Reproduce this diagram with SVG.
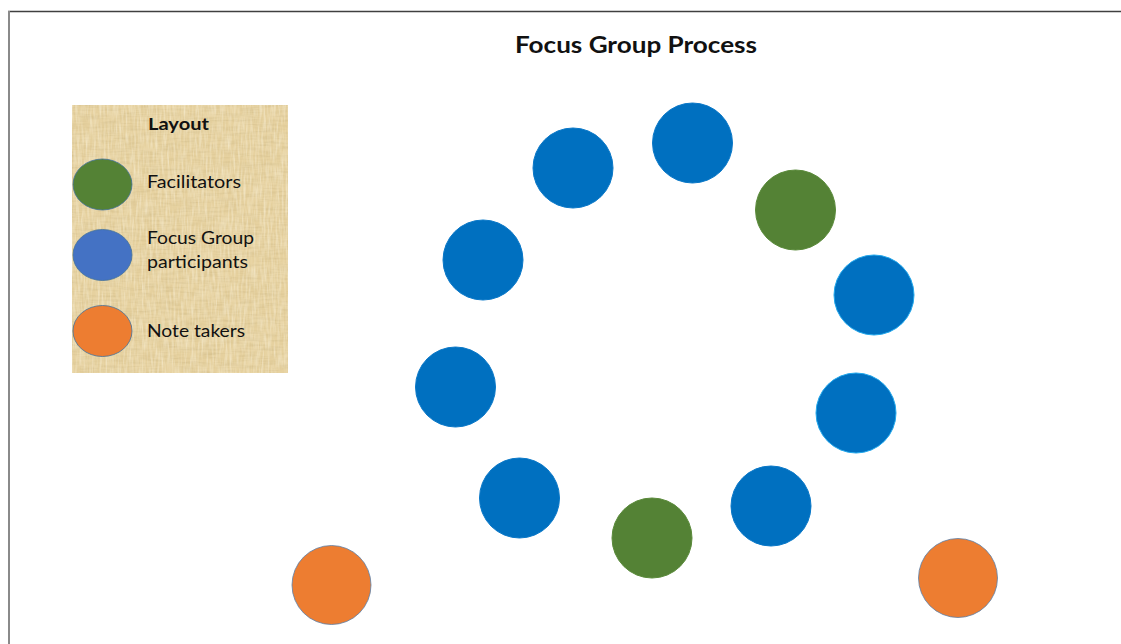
<svg xmlns="http://www.w3.org/2000/svg" width="1121" height="644" viewBox="0 0 1121 644">
<defs>
<style>
.seat{stroke-width:1}
.blue{fill:#0070C0;stroke:#0A78C8}
.blue2{fill:#0070C0;stroke:#22A8EC;stroke-width:1}
.green{fill:#548235;stroke:#5A8A3A}
.orange{fill:#ED7D31;stroke:#5A7FA8;stroke-width:0.8}
.lg{stroke:#41719C;stroke-width:0.8}
.txt{font-family:Lato,"Liberation Sans",Arial,sans-serif;fill:#111}
</style>
<filter id="parch" x="72" y="105" width="216" height="268" filterUnits="userSpaceOnUse">
<feTurbulence type="fractalNoise" baseFrequency="0.05 0.45" numOctaves="3" seed="4" result="n"/>
<feColorMatrix in="n" type="matrix" values="0 0 0 0 0.66  0 0 0 0 0.52  0 0 0 0 0.26  0 0 0 -1.4 0.85" result="c"/>
<feComposite in="c" in2="SourceGraphic" operator="in"/>
</filter>
<filter id="parch2" x="72" y="105" width="216" height="268" filterUnits="userSpaceOnUse">
<feTurbulence type="fractalNoise" baseFrequency="0.5 0.06" numOctaves="2" seed="9" result="n"/>
<feColorMatrix in="n" type="matrix" values="0 0 0 0 1  0 0 0 0 0.96  0 0 0 0 0.82  0 0 0 -1.5 0.95" result="c"/>
<feComposite in="c" in2="SourceGraphic" operator="in"/>
</filter>
</defs>
<rect width="1121" height="644" fill="#fff"/>
<g id="frame">
<line x1="8" y1="11.5" x2="1121" y2="11.5" stroke="#404040" stroke-width="1.5"/>
<line x1="9" y1="11" x2="9" y2="644" stroke="#8a8a8a" stroke-width="2"/>
</g>
<g id="title">
<text class="txt" x="636" y="53" font-size="22" font-weight="bold" text-anchor="middle" textLength="242" lengthAdjust="spacingAndGlyphs">Focus Group Process</text>
</g>
<g id="legend">
<rect x="72" y="105" width="216" height="268" fill="#E6D19F"/>
<rect x="72" y="105" width="216" height="268" fill="#fff" filter="url(#parch)"/>
<rect x="72" y="105" width="216" height="268" fill="#fff" filter="url(#parch2)" opacity="0.6"/>
<text class="txt" x="148" y="130" font-size="17" font-weight="bold" textLength="61" lengthAdjust="spacingAndGlyphs">Layout</text>
<ellipse class="lg" cx="102.5" cy="184.5" rx="29.5" ry="25.5" fill="#548235"/>
<text class="txt" x="147" y="188" font-size="17" textLength="94" lengthAdjust="spacingAndGlyphs">Facilitators</text>
<ellipse class="lg" cx="102.5" cy="255" rx="29.5" ry="25.5" fill="#4472C4"/>
<text class="txt" x="147" y="244" font-size="17" textLength="107" lengthAdjust="spacingAndGlyphs">Focus Group</text>
<text class="txt" x="147" y="268" font-size="17" textLength="101" lengthAdjust="spacingAndGlyphs">participants</text>
<ellipse class="lg" cx="102.5" cy="331" rx="29.5" ry="25.5" fill="#ED7D31"/>
<text class="txt" x="147" y="337" font-size="17" textLength="98" lengthAdjust="spacingAndGlyphs">Note takers</text>
</g>
<g id="seats">
<g id="p1"><circle class="seat blue" cx="573" cy="168" r="40"/></g>
<g id="p2"><circle class="seat blue" cx="692.5" cy="143" r="40"/></g>
<g id="f1"><circle class="seat green" cx="795.5" cy="210" r="40"/></g>
<g id="p3"><circle class="seat blue2" cx="874" cy="295" r="40"/></g>
<g id="p4"><circle class="seat blue2" cx="856" cy="413" r="40"/></g>
<g id="p5"><circle class="seat blue" cx="771" cy="506" r="40"/></g>
<g id="f2"><circle class="seat green" cx="652" cy="538" r="40"/></g>
<g id="p6"><circle class="seat blue" cx="519.5" cy="498" r="40"/></g>
<g id="p7"><circle class="seat blue" cx="455.5" cy="387" r="40"/></g>
<g id="p8"><circle class="seat blue" cx="483" cy="260" r="40"/></g>
<g id="n1"><circle class="seat orange" cx="331.5" cy="585" r="39.5"/></g>
<g id="n2"><circle class="seat orange" cx="958" cy="578" r="39.5"/></g>
</g>
<g id="connectors"/>
</svg>
